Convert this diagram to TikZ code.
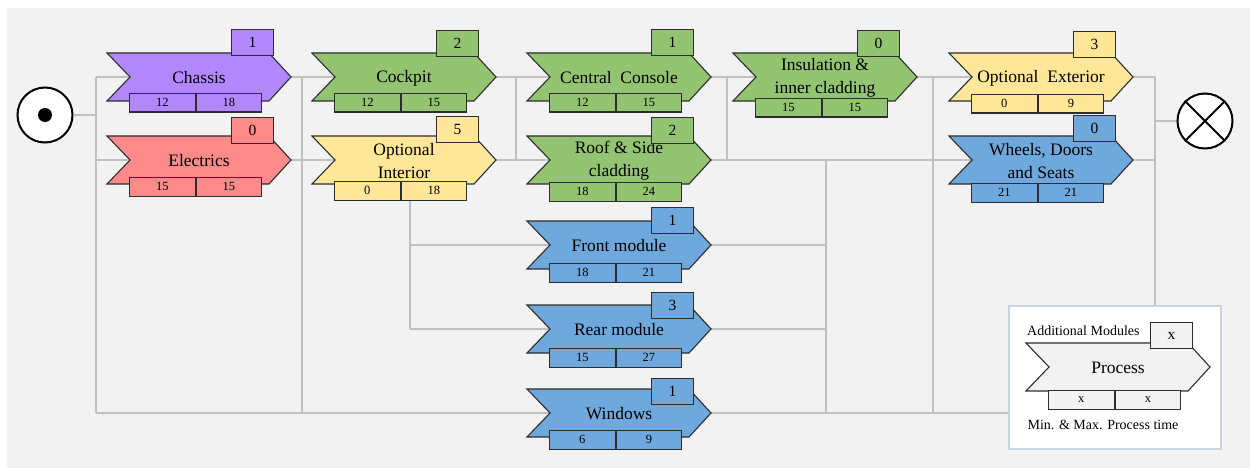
\documentclass[tikz,border=0pt]{standalone}
\usepackage{fontspec}
\setmainfont{Liberation Serif}
\definecolor{cpur}{RGB}{179,136,255}
\definecolor{cred}{RGB}{255,138,138}
\definecolor{cgrn}{RGB}{147,196,114}
\definecolor{cyel}{RGB}{255,230,153}
\definecolor{cblu}{RGB}{111,168,220}
\definecolor{cbg}{RGB}{242,242,242}
\definecolor{cline}{RGB}{192,192,192}
\definecolor{cedge}{RGB}{45,45,45}
\definecolor{clegb}{RGB}{200,213,225}
\pgfdeclarelayer{bglayer}
\pgfdeclarelayer{lines}
\pgfsetlayers{bglayer,lines,main}
\tikzset{
  conn/.style={draw=cline, line width=1.5pt},
  chevshape/.style={draw=cedge, line width=1.1pt, line join=miter},
  lbl/.style={font=\fontsize{17.5}{23}\selectfont, align=center, inner sep=0pt},
  badgebox/.style={draw=cedge, line width=1.1pt, minimum width=42pt, minimum height=26pt, inner sep=0pt, font=\fontsize{15.5}{18}\selectfont, anchor=north east},
  cell/.style={draw=cedge, line width=1.1pt, minimum width=65.5pt, minimum height=18.5pt, inner sep=0pt, font=\fontsize{12.5}{14}\selectfont, anchor=north west},
  legtext/.style={font=\fontsize{14}{16}\selectfont, inner sep=0pt},
  term/.style={circle, draw=black, line width=2pt, fill=white, minimum size=55pt, inner sep=0pt},
}
% #1 name, #2 L, #3 C, #4 colour, #5 label
\newcommand\chev[5]{%
  \coordinate (#1-in) at ({#2+23},#3);
  \coordinate (#1-out) at ({#2+184},#3);
  \path[chevshape, fill=#4] (#2,{#3-24}) -- ({#2+162},{#3-24}) -- (#1-out) -- ({#2+162},{#3+24}) -- (#2,{#3+24}) -- (#1-in) -- cycle;
  \node[lbl] (#1) at ({#2+92},{#3+1}) {#5};
}
% #1 name, #2 L, #3 top, #4 colour, #5 number
\newcommand\badge[5]{%
  \node[badgebox, fill=#4] (#1-n) at ({#2+167},#3) {#5};
}
% #1 name, #2 L, #3 top, #4 colour, #5 min, #6 max
\newcommand\ptime[6]{%
  \node[cell, fill=#4] (#1-min) at ({#2+22},#3) {#5};
  \node[cell, fill=#4] (#1-max) at (#1-min.north east) {#6};
}
\begin{document}
\begin{tikzpicture}[x=1pt, y=-1pt]
\useasboundingbox (0,0) rectangle (1250,468);
\begin{pgfonlayer}{bglayer}
  \fill[white] (0,0) rectangle (1250,468);
  \fill[cbg] (7,8) rectangle (1250,468);
\end{pgfonlayer}

% terminals
\node[term] (start) at (45,115) {};
\node[circle, fill=black, minimum size=14pt, inner sep=0pt] (startdot) at (start.center) {};
\node[term] (end) at (1205,121) {};
\draw[line width=2pt] (end.north west) -- (end.south east) (end.north east) -- (end.south west);

% processes
\chev{chassis}{107}{77}{cpur}{Chassis}
\badge{chassis}{107}{29}{cpur}{1}
\ptime{chassis}{107}{93}{cpur}{12}{18}

\chev{electrics}{107}{160}{cred}{Electrics}
\badge{electrics}{107}{117}{cred}{0}
\ptime{electrics}{107}{177}{cred}{15}{15}

\chev{cockpit}{312}{77}{cgrn}{Cockpit}
\badge{cockpit}{312}{30}{cgrn}{2}
\ptime{cockpit}{312}{93}{cgrn}{12}{15}

\chev{optint}{312}{160}{cyel}{Optional\\Interior}
\badge{optint}{312}{116}{cyel}{5}
\ptime{optint}{312}{181}{cyel}{0}{18}

\chev{cc}{527}{77}{cgrn}{Central~ Console}
\badge{cc}{527}{29}{cgrn}{1}
\ptime{cc}{527}{93}{cgrn}{12}{15}

\chev{roof}{527}{160}{cgrn}{Roof \& Side\\cladding}
\badge{roof}{527}{117}{cgrn}{2}
\ptime{roof}{527}{182}{cgrn}{18}{24}

\chev{front}{527}{245}{cblu}{Front module}
\badge{front}{527}{207}{cblu}{1}
\ptime{front}{527}{263}{cblu}{18}{21}

\chev{rear}{527}{329}{cblu}{Rear module}
\badge{rear}{527}{292}{cblu}{3}
\ptime{rear}{527}{348}{cblu}{15}{27}

\chev{windows}{527}{413}{cblu}{Windows}
\badge{windows}{527}{378}{cblu}{1}
\ptime{windows}{527}{430}{cblu}{6}{9}

\chev{insul}{733}{77}{cgrn}{Insulation \&\\inner cladding}
\badge{insul}{733}{30}{cgrn}{0}
\ptime{insul}{733}{98}{cgrn}{15}{15}

\chev{optext}{949}{77}{cyel}{Optional~ Exterior}
\badge{optext}{949}{31}{cyel}{3}
\ptime{optext}{949}{94}{cyel}{0}{9}

\chev{wheels}{949}{160}{cblu}{Wheels, Doors\\and Seats}
\badge{wheels}{949}{115}{cblu}{0}
\ptime{wheels}{949}{183}{cblu}{21}{21}

% legend
\node[draw=clegb, line width=1.5pt, fill=white, minimum width=212pt, minimum height=143pt, inner sep=0pt, anchor=north west] (legend) at (1008,305) {};
\chev{leg}{1026}{367}{cbg}{Process}
\badge{leg}{1026}{322}{cbg}{x}
\ptime{leg}{1026}{390}{cbg}{x}{x}
\node[legtext, anchor=west] (legtop) at (1027,331) {Additional Modules};
\node[legtext] (legbot) at (1103,425) {Min. \& Max. Process time};

% junction points
\coordinate (jas) at (96,115);
\coordinate (ja1) at (96,77);
\coordinate (ja2) at (96,160);
\coordinate (jab) at (96,413);
\coordinate (jb1) at (302,77);
\coordinate (jb2) at (302,160);
\coordinate (jbb) at (302,413);
\coordinate (jc1) at (516,77);
\coordinate (jc2) at (516,160);
\coordinate (jd0) at (410,160);
\coordinate (jd1) at (410,245);
\coordinate (jd2) at (410,329);
\coordinate (je1) at (727,77);
\coordinate (je2) at (727,160);
\coordinate (jf2) at (826,160);
\coordinate (jf3) at (826,245);
\coordinate (jf4) at (826,329);
\coordinate (jfb) at (826,413);
\coordinate (jg1) at (933,77);
\coordinate (jg2) at (933,160);
\coordinate (jgb) at (933,413);
\coordinate (jh1) at (1155,77);
\coordinate (jh2) at (1155,160);
\coordinate (jhe) at (1155,121);
\coordinate (jhb) at (1155,413);

\begin{pgfonlayer}{lines}
  \draw[conn] (start) -- (jas);
  \draw[conn] (ja1) -- (jab);
  \draw[conn] (ja1) -- (chassis-in);
  \draw[conn] (ja2) -- (electrics-in);
  \draw[conn] (chassis-out) -- (jb1);
  \draw[conn] (electrics-out) -- (jb2);
  \draw[conn] (jb1) -- (jbb);
  \draw[conn] (jb1) -- (cockpit-in);
  \draw[conn] (jb2) -- (optint-in);
  \draw[conn] (cockpit-out) -- (jc1);
  \draw[conn] (optint-out) -- (jc2);
  \draw[conn] (jc1) -- (jc2);
  \draw[conn] (jc1) -- (cc-in);
  \draw[conn] (jc2) -- (roof-in);
  \draw[conn] (jd0) -- (jd2);
  \draw[conn] (jd1) -- (front-in);
  \draw[conn] (jd2) -- (rear-in);
  \draw[conn] (jab) -- (windows-in);
  \draw[conn] (windows-out) -- (jhb);
  \draw[conn] (cc-out) -- (je1);
  \draw[conn] (roof-out) -- (je2);
  \draw[conn] (je1) -- (je2);
  \draw[conn] (je1) -- (insul-in);
  \draw[conn] (je2) -- (jg2);
  \draw[conn] (front-out) -- (jf3);
  \draw[conn] (rear-out) -- (jf4);
  \draw[conn] (jf2) -- (jfb);
  \draw[conn] (insul-out) -- (jg1);
  \draw[conn] (jg1) -- (jgb);
  \draw[conn] (jg1) -- (optext-in);
  \draw[conn] (jg2) -- (wheels-in);
  \draw[conn] (optext-out) -- (jh1);
  \draw[conn] (wheels-out) -- (jh2);
  \draw[conn] (jh1) -- (jhb);
  \draw[conn] (jhe) -- (end);
\end{pgfonlayer}
\end{tikzpicture}
\end{document}
